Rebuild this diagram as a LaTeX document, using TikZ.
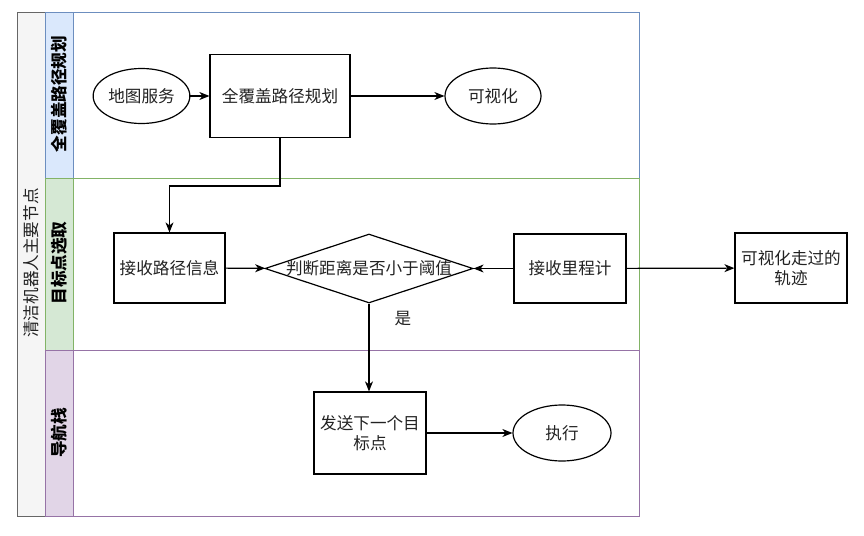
\documentclass[tikz,border=0pt]{standalone}
\usepackage{fontspec}
\setmainfont{Noto Sans CJK SC}
\usetikzlibrary{shapes.geometric,arrows.meta}
\definecolor{poolfill}{HTML}{F5F5F5}
\definecolor{poolline}{HTML}{666666}
\definecolor{bluefill}{HTML}{DAE8FC}
\definecolor{blueline}{HTML}{6C8EBF}
\definecolor{greenfill}{HTML}{D5E8D4}
\definecolor{greenline}{HTML}{82B366}
\definecolor{purplefill}{HTML}{E1D5E7}
\definecolor{purpleline}{HTML}{9673A6}
\definecolor{txt}{HTML}{222222}
\tikzset{
  base/.style={draw=black, line width=1.2pt, fill=white, text=txt, font=\fontsize{16.6}{19.5}\selectfont, align=center, inner sep=1pt},
  box/.style={base, rectangle},
  oval/.style={base, ellipse},
  dia/.style={base, diamond, aspect=3},
  conn/.style={line width=1.2pt, -{Stealth[length=10pt,width=8pt,inset=3pt]}},
  lanetitle/.style={rotate=90, font=\fontsize{16.6}{19}\selectfont\bfseries, text=black},
}
\begin{document}
\begin{tikzpicture}[x=1pt,y=-1pt]
\useasboundingbox (0,0) rectangle (864,535);
% pool
\draw[poolline, fill=poolfill, line width=1pt] (17,12.5) rectangle (45,516.5);
\node[rotate=90, font=\fontsize{16.6}{19}\selectfont, text=txt] (pooltitle) at (31,263) {清洁机器人主要节点};
% lanes
\draw[blueline, line width=1pt, fill=white] (45,12.5) rectangle (639,178);
\draw[blueline, line width=1pt, fill=bluefill] (45,12.5) rectangle (73,178);
\draw[greenline, line width=1pt, fill=white] (45,178) rectangle (639,350);
\draw[greenline, line width=1pt, fill=greenfill] (45,178) rectangle (73,350);
\draw[purpleline, line width=1pt, fill=white] (45,350) rectangle (639,516.5);
\draw[purpleline, line width=1pt, fill=purplefill] (45,350) rectangle (73,516.5);
\node[lanetitle] (l1) at (59,94) {全覆盖路径规划};
\node[lanetitle] (l2) at (59,263) {目标点选取};
\node[lanetitle] (l3) at (59,433) {导航栈};
% nodes
\node[oval, minimum width=83pt, minimum height=55pt] (map) at (141.5,96) {地图服务};
\node[box, minimum width=140pt, minimum height=83pt] (plan) at (280,96) {全覆盖路径规划};
\node[oval, minimum width=96pt, minimum height=56pt] (vis) at (493,96) {可视化};
\node[box, minimum width=111pt, minimum height=70pt] (recv) at (169.5,268) {接收路径信息};
\node[dia, minimum width=208pt, minimum height=69pt, inner sep=0pt] (judge) at (369,268.5) {};
\node[text=txt, font=\fontsize{16.6}{19.5}\selectfont] (judgetxt) at (369,268.5) {判断距离是否小于阈值};
\node[box, minimum width=112pt, minimum height=69pt] (odom) at (570,268.5) {接收里程计};
\node[box, minimum width=112pt, minimum height=70pt] (track) at (791,268) {可视化走过的\\轨迹};
\node[box, minimum width=112pt, minimum height=82pt] (send) at (370,433) {发送下一个目\\标点};
\node[oval, minimum width=98pt, minimum height=56pt] (exec) at (562,433) {执行};
\node[text=txt, font=\fontsize{16.6}{19.5}\selectfont] (yes) at (403,319) {是};
% connectors
\coordinate (c1) at (280,186);
\coordinate (c2) at (169.5,186);
\draw[conn] (map) -- (plan);
\draw[conn] (plan) -- (vis);
\draw[conn] (plan.south) -- (c1) -- (c2) -- (recv.north);
\draw[conn] (recv) -- (judge);
\draw[conn] (odom) -- (judge);
\draw[conn] (odom) -- (track);
\draw[conn] (judge.south) -- (send.north -| judge.south);
\draw[conn] (send) -- (exec);
\end{tikzpicture}
\end{document}
